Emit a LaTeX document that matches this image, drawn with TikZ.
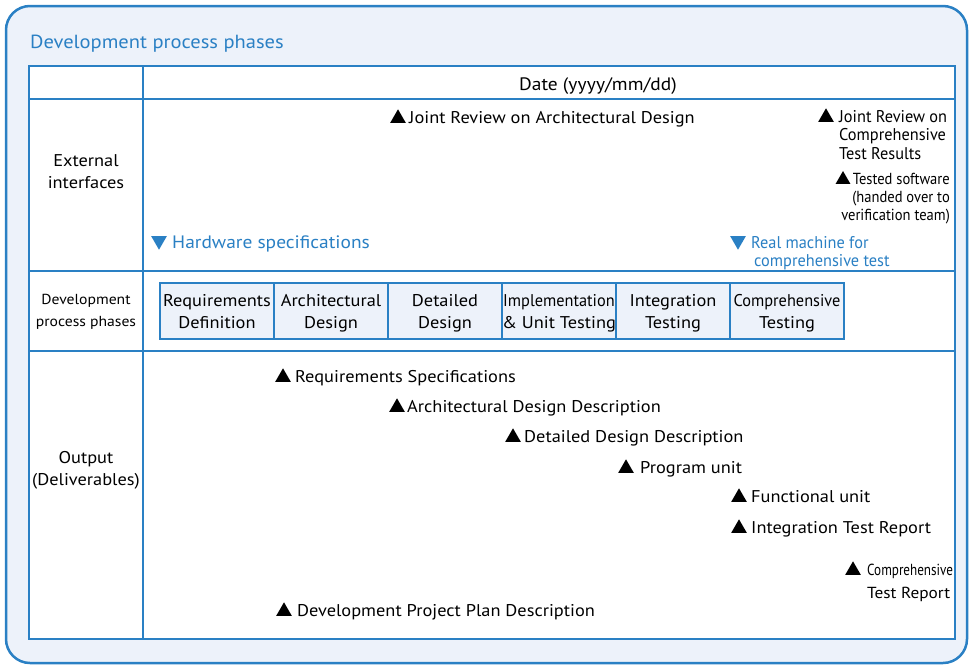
\documentclass[tikz,border=0pt]{standalone}
\usepackage{fontspec}
\setmainfont{PT Sans}[FakeStretch=1.08]
\newfontfamily\midfont[FakeStretch=0.96]{PT Sans}
\newfontfamily\narrowfont[FakeStretch=0.91]{PT Sans}
\newfontfamily\tightfont[FakeStretch=0.82]{PT Sans}
\usetikzlibrary{positioning,shapes.geometric}
\definecolor{frameblue}{RGB}{42,128,196}
\definecolor{paleblue}{RGB}{237,242,250}

\begin{document}
\begin{tikzpicture}[
  x=1pt, y=-1pt,
  node distance=0pt,
  tableline/.style={draw=frameblue, line width=2pt},
  cell/.style={align=center, font=\fontsize{17}{22}\selectfont},
  phase/.style={draw=frameblue, line width=1.2pt, fill=paleblue, outer sep=0pt, inner sep=0pt,
    minimum width=114pt, minimum height=56pt, text depth=0pt, align=center, font=\fontsize{17}{22}\selectfont},
  item/.style={anchor=base west, inner sep=0pt, font=\fontsize{17}{21}\selectfont},
  narrow/.style={anchor=base west, inner sep=0pt, font=\narrowfont\fontsize{16}{18}\selectfont},
  uptri/.style={regular polygon, regular polygon sides=3, fill=black, inner sep=0pt,
    minimum size=18pt, anchor=south},
  downtri/.style={uptri, fill=frameblue, shape border rotate=180, anchor=north}
]
\useasboundingbox (0,0) rectangle (973,665);

% frame and table
\draw[draw=frameblue, line width=2.5pt, fill=paleblue, rounded corners=24pt] (6,6) rectangle (967,663);
\fill[white] (29,66) rectangle (955,639);
\draw[tableline] (29,66) rectangle (955,639);
\draw[tableline] (143,66) -- (143,639);
\draw[tableline] (29,99) -- (955,99) (29,271) -- (955,271) (29,351) -- (955,351);

\node[anchor=base west, inner sep=0pt, text=frameblue, font=\fontsize{19}{21}\selectfont] (title) at (30,48) {Development process phases};
\node[item, anchor=base, font=\fontsize{18}{20}\selectfont] (date) at (598,90) {Date (yyyy/mm/dd)};

% row labels
\node[cell] (ext) at (86,172) {External\\interfaces};
\node[cell, font=\fontsize{14.5}{22}\selectfont] (devlbl) at (86,312) {Development\\process phases};
\node[cell] (out) at (86,470) {Output\\(Deliverables)};

% phases
\node[phase] (req) at (217,311) {Requirements\\Definition};
\node[phase, right=of req] (arch) {Architectural\\Design};
\node[phase, right=of arch] (det) {Detailed\\Design};
\node[phase, right=of det] (impl) {{\midfont Implementation}\\\& Unit Testing};
\node[phase, right=of impl] (integ) {Integration\\Testing};
\node[phase, right=of integ] (comp) {{\midfont Comprehensive}\\Testing};

% external interfaces
\node[uptri] (jradtri) at (398,123) {};
\node[item] (jrad) at (409,123) {Joint Review on Architectural Design};
\node[uptri] (jrcttri) at (826,122) {};
\node[item, align=left, font=\midfont\fontsize{17}{18.5}\selectfont] (jrct) at (839,159) {Joint Review on\\Comprehensive\\Test Results};
\node[uptri, minimum size=17pt] (tstri) at (843,184) {};
\node[narrow, align=right, anchor=base east] (ts) at (950,220) {Tested software\\(handed over to\\verification team)};
\node[downtri] (hwtri) at (159,236) {};
\node[item, text=frameblue, font=\fontsize{18}{20}\selectfont] (hw) at (172,248) {Hardware specifications};
\node[downtri] (rmtri) at (738,236) {};
\node[item, align=left, text=frameblue, font=\midfont\fontsize{17}{18}\selectfont] (rm) at (751,266) {Real machine for\\\hspace{3pt}comprehensive test};

% output
\node[uptri] (rstri) at (283,382) {};
\node[item] (rs) at (295,382) {Requirements Specifications};
\node[uptri] (addtri) at (397,412) {};
\node[item] (add) at (407,412) {Architectural Design Description};
\node[uptri] (dddtri) at (513,442) {};
\node[item] (ddd) at (524,442) {Detailed Design Description};
\node[uptri] (putri) at (626,473) {};
\node[item] (pu) at (640,473) {Program unit};
\node[uptri] (futri) at (739,502) {};
\node[item] (fu) at (751,502) {Functional unit};
\node[uptri] (itrtri) at (739,533) {};
\node[item] (itr) at (751,533) {Integration Test Report};
\node[uptri] (ctrtri) at (853,575) {};
\node[item, align=left, font=\fontsize{16}{18}\selectfont] (ctr) at (867,598) {{\tightfont Comprehensive}\\[5pt]Test Report};
\node[uptri] (dpptri) at (284,616) {};
\node[item] (dpp) at (297,616) {Development Project Plan Description};
\end{tikzpicture}
\end{document}
